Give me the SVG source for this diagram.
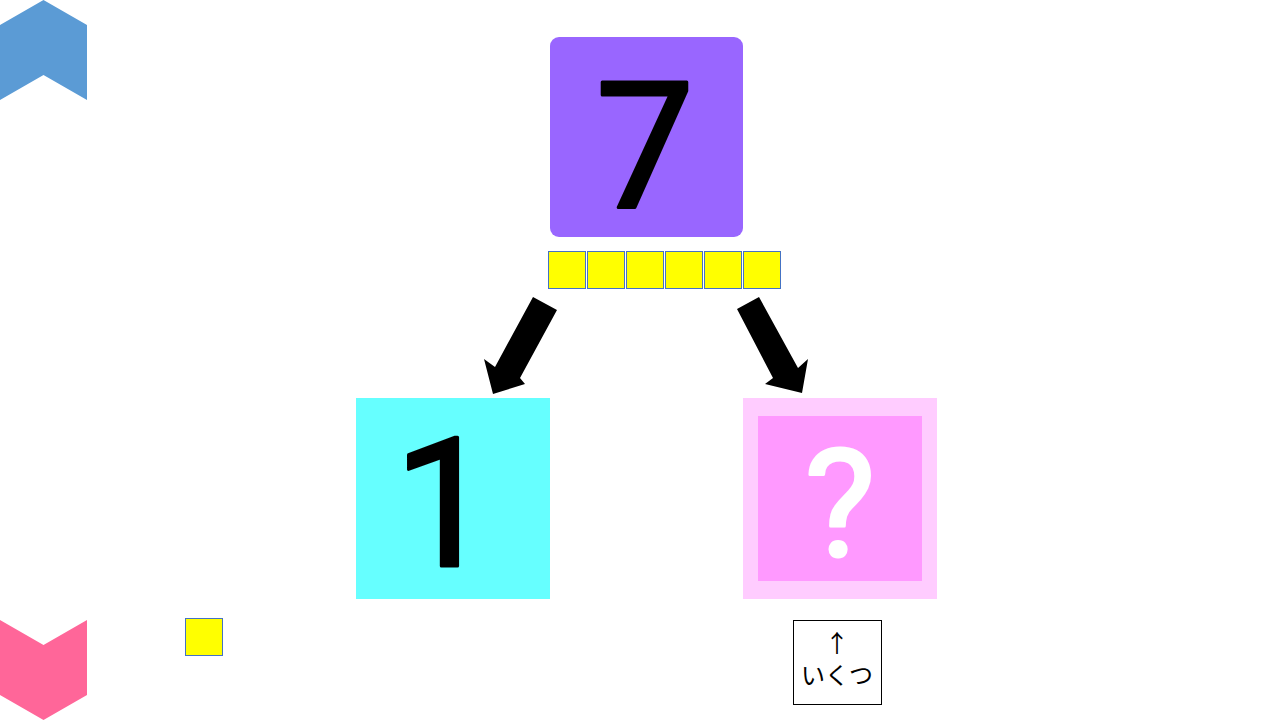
<svg xmlns="http://www.w3.org/2000/svg" width="1280" height="720" viewBox="0 0 1280 720">
<style>
.blk{fill:#FFFF00;stroke:#4472C4;stroke-width:1}
.arrow{fill:#000}
.big{font-family:Roboto,"Noto Sans",sans-serif;text-anchor:middle;font-weight:400;stroke-linejoin:round;stroke-width:3}
.lbl{font-family:"Noto Sans CJK JP","Noto Sans",sans-serif;font-size:24px;text-anchor:middle;fill:#000}
</style>
<rect width="1280" height="720" fill="#fff"/>
<g id="deco-top"><polygon points="0,25 43.5,0 87,25 87,100 43.5,75 0,100" fill="#5B9BD5"/></g>
<g id="deco-bottom"><polygon points="0,620 43.5,645 87,620 87,695 43.5,720 0,695" fill="#FF6699"/></g>
<g id="node-7">
<rect x="550" y="37" width="193" height="200" rx="9" fill="#9966FF"/>
<text class="big" x="645" y="207" font-size="176" fill="#000" stroke="#000">7</text>
</g>
<g id="blocks-6">
<rect class="blk" x="548.5" y="251.5" width="37" height="37"/>
<rect class="blk" x="587.5" y="251.5" width="37" height="37"/>
<rect class="blk" x="626.5" y="251.5" width="37" height="37"/>
<rect class="blk" x="665.5" y="251.5" width="37" height="37"/>
<rect class="blk" x="704.5" y="251.5" width="37" height="37"/>
<rect class="blk" x="743.5" y="251.5" width="37" height="37"/>
</g>
<g id="connectors">
<polygon class="arrow" points="533,297 557,310 520,378 525,384 493,394 484,359 495,367"/>
<polygon class="arrow" points="759,297 737,309 773,378 765,384 802,393 808,359 798,368"/>
</g>
<g id="node-1">
<rect x="356" y="398" width="194" height="201" fill="#66FFFF"/>
<text class="big" x="444" y="566" font-size="180" fill="#000" stroke="#000">1</text>
</g>
<g id="node-q">
<rect x="743" y="398" width="194" height="201" fill="#FFCCFF"/>
<rect x="758" y="416" width="164" height="165" fill="#FF99FF"/>
<text class="big" x="840" y="556" font-size="150" fill="#fff" stroke="#fff">?</text>
</g>
<g id="block-1"><rect class="blk" x="185.5" y="618.5" width="37" height="37"/></g>
<g id="label-ikutsu">
<rect x="793.5" y="620.5" width="88" height="84" fill="#fff" stroke="#000" stroke-width="1"/>
<text class="lbl" x="837" y="652">↑</text>
<text class="lbl" x="837" y="684">いくつ</text>
</g>
</svg>
